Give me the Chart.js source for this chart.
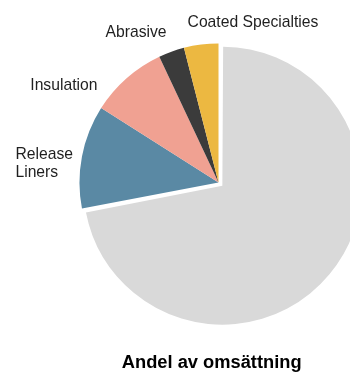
<!DOCTYPE html>
<html>
<head>
<meta charset="utf-8">
<script src="https://cdn.jsdelivr.net/npm/chart.js@4/dist/chart.umd.min.js"></script>
<style>
  html, body { margin: 0; padding: 0; background: #fff; overflow: hidden; }
  #wrap { position: absolute; left: 0; top: 0; width: 437px; height: 372px; }
</style>
</head>
<body>
<div id="wrap"><canvas id="c" width="437" height="372"></canvas></div>
<script>
// ---- data ----
const categories = ['', ['Release', 'Liners'], 'Insulation', 'Abrasive', 'Coated Specialties'];
const shares = [72, 12, 9, 3, 4];
const sliceColors = ['#d9d9d9', '#5a89a4', '#f0a192', '#3b3b3b', '#ecb841'];
const chartTitle = 'Andel av omsättning';

const FONT = '"Liberation Sans", Arial, sans-serif';

// keep exploded slice at the same radius as the rest
const offsetFix = {
  id: 'offsetFix',
  beforeDatasetsDraw(chart) {
    const meta = chart.getDatasetMeta(0);
    meta.data.forEach((arc) => {
      const off = arc.options.offset || 0;
      if (off) { arc._origR = arc.outerRadius; arc.outerRadius = arc.outerRadius - off / 4; }
    });
  },
  afterDatasetsDraw(chart) {
    const meta = chart.getDatasetMeta(0);
    meta.data.forEach((arc) => {
      if (arc._origR !== undefined) { arc.outerRadius = arc._origR; delete arc._origR; }
    });
  }
};

const sliceLabels = {
  id: 'sliceLabels',
  afterDatasetsDraw(chart, args, opts) {
    const meta = chart.getDatasetMeta(0);
    const ctx = chart.ctx;
    const size = opts.fontSize;
    const cap = size * 0.716;
    ctx.save();
    ctx.font = size + 'px ' + FONT;
    ctx.fillStyle = opts.color;
    ctx.textAlign = 'left';
    ctx.textBaseline = 'alphabetic';
    let cx = 0;
    meta.data.forEach((arc, i) => {
      const p = arc.getProps(['x', 'y', 'startAngle', 'endAngle', 'outerRadius'], true);
      if (i === 1) { cx = p.x; }
      const label = chart.data.labels[i];
      if (!label || (Array.isArray(label) && !label.length)) return;
      const lines = Array.isArray(label) ? label : [label];
      const mid = (p.startAngle + p.endAngle) / 2;
      const r = p.outerRadius + opts.distance;
      const nudge = opts.nudges[i] || [0, 0];
      const bx = p.x + Math.cos(mid) * r + nudge[0];
      const by = p.y + Math.sin(mid) * r + nudge[1];
      const lh = opts.lineHeight;
      const maxW = Math.max(...lines.map((l) => ctx.measureText(l).width));
      const left = bx - maxW / 2;
      const top = by - (lines.length - 1) * lh / 2;
      lines.forEach((ln, k) => {
        ctx.fillText(ln, left, top + k * lh + cap / 2);
      });
    });
    // title
    ctx.font = 'bold ' + opts.titleSize + 'px ' + FONT;
    ctx.fillStyle = opts.titleColor;
    ctx.textAlign = 'center';
    ctx.fillText(chartTitle, cx + opts.titleDx, chart.height - opts.titleBottom);
    ctx.restore();
  }
};

new Chart(document.getElementById('c'), {
  type: 'pie',
  data: {
    labels: categories,
    datasets: [{
      data: shares,
      backgroundColor: sliceColors,
      borderWidth: 0,
      offset: shares.map((v, i) => i === 0 ? 20 : 0),
      radius: 139
    }]
  },
  options: {
    responsive: false,
    animation: false,
    devicePixelRatio: 1,
    layout: { padding: { top: 0, bottom: 7, left: 0, right: 0 } },
    plugins: {
      legend: { display: false },
      tooltip: { enabled: false },
      title: { display: false },
      sliceLabels: {
        fontSize: 15.7,
        lineHeight: 18,
        distance: 20,
        color: '#1f1f1f',
        nudges: [[0, 0], [-18.1, 9.9], [-49.5, 21.6], [-28.6, -1.4], [54.4, -3.5]],
        titleSize: 18.3,
        titleColor: '#000',
        titleDx: -6.8,
        titleBottom: 3.7
      }
    }
  },
  plugins: [offsetFix, sliceLabels]
});
</script>
</body>
</html>
